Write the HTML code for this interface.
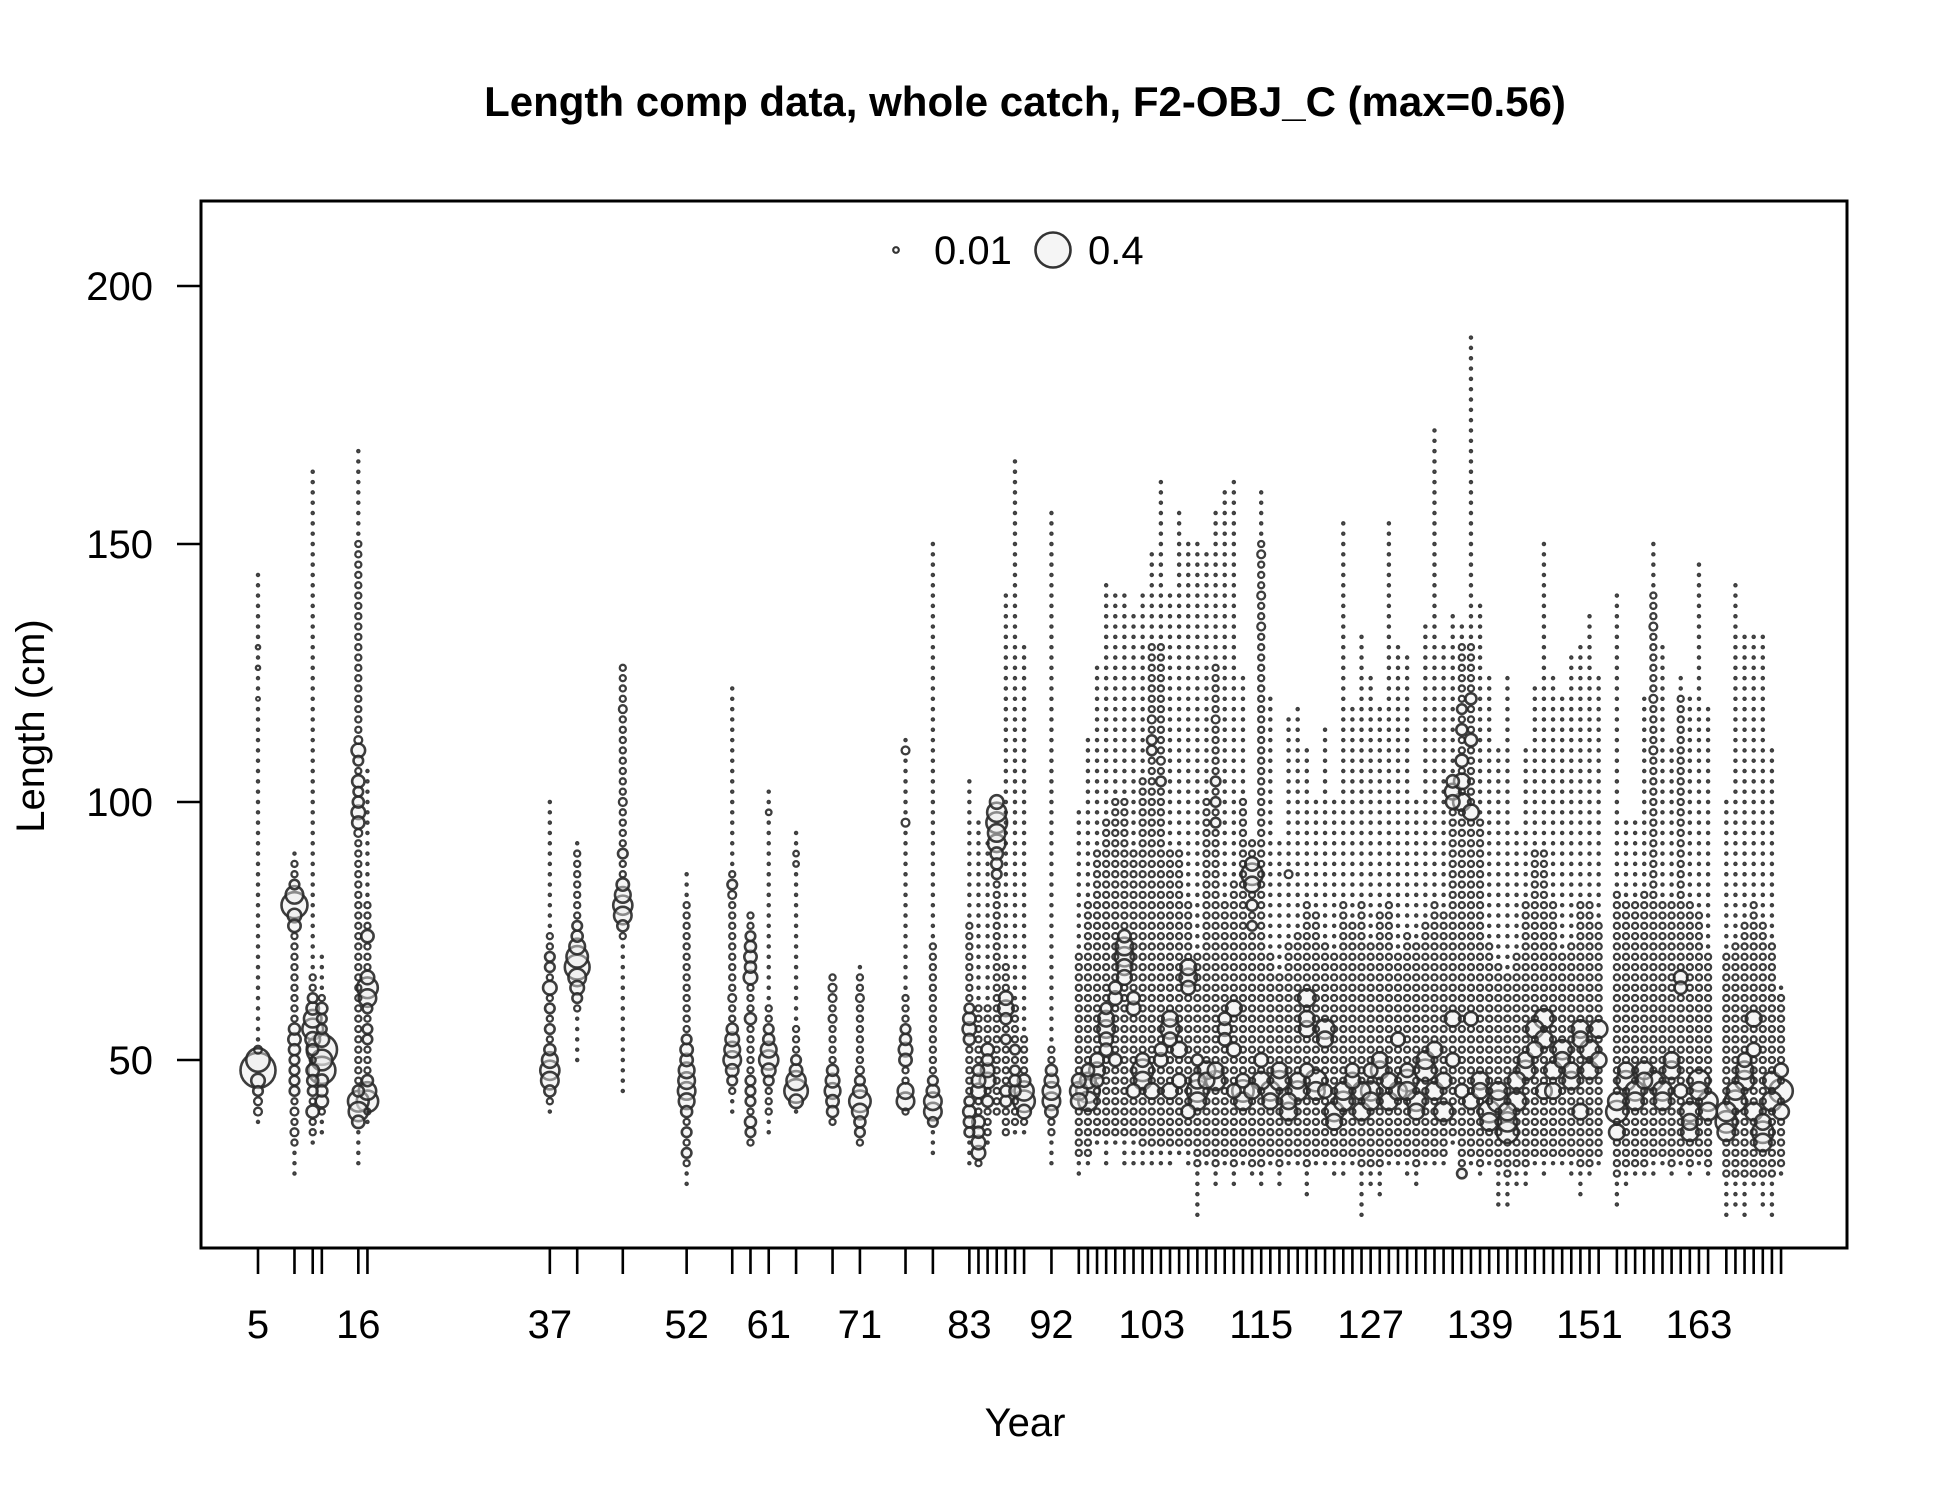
<!DOCTYPE html>
<html><head><meta charset="utf-8"><style>
html,body{margin:0;padding:0;background:#fff;}
svg text{font-family:"Liberation Sans",Arial,sans-serif;fill:#000;}
</style></head><body>
<svg id="chart" width="1950" height="1500" viewBox="0 0 1950 1500" xmlns="http://www.w3.org/2000/svg">
<rect x="0" y="0" width="1950" height="1500" fill="#fff"/>
<text x="1025" y="116" text-anchor="middle" font-size="42" font-weight="bold">Length comp data, whole catch, F2-OBJ_C (max=0.56)</text>
<text x="1025" y="1436" text-anchor="middle" font-size="40">Year</text>
<text transform="translate(44,726) rotate(-90)" text-anchor="middle" font-size="40">Length (cm)</text>
<g id="marks"></g>
<g id="axes"></g>
<rect x="201" y="201" width="1646" height="1047" fill="none" stroke="#000" stroke-width="3"/>
<g>
<circle cx="896" cy="250" r="2.8" fill="none" stroke="#333" stroke-width="2.2"/>
<text x="934" y="264" font-size="40">0.01</text>
<circle cx="1053" cy="250" r="17.5" fill="rgba(235,235,235,0.5)" stroke="#333" stroke-width="2.6"/>
<text x="1088" y="264" font-size="40">0.4</text>
</g>
</svg>
<script>
const years=[5,9,11,12,16,17,37,40,45,52,57,59,61,64,68,71,76,79,83,84,85,86,87,88,89,92,
95,96,97,98,99,100,101,102,103,104,105,106,107,108,109,110,111,112,113,114,115,116,117,118,119,120,121,122,123,124,125,126,127,128,129,130,131,132,133,134,135,136,137,138,139,140,141,142,143,144,145,146,147,148,149,150,151,152,154,155,156,157,158,159,160,161,162,163,164,166,167,168,169,170,171,172];
const lowLen=[38,28,34,36,30,38,40,50,44,26,40,34,36,40,38,34,40,32,30,30,34,40,36,36,36,30,
28,30,34,30,34,30,30,30,30,30,30,32,30,20,30,26,30,26,30,28,26,30,26,30,30,24,30,30,28,28,30,20,26,24,30,30,28,26,30,30,30,34,28,30,28,30,22,22,26,26,30,28,30,30,28,24,28,30,22,26,28,28,28,30,28,30,28,30,28,20,22,20,26,22,20,28];
const highLen=[144,90,164,70,168,106,100,92,126,86,122,78,102,94,66,68,112,150,104,96,92,100,140,166,130,156,
98,112,126,142,140,140,136,140,148,162,140,156,150,150,148,156,160,162,124,92,160,120,92,116,118,110,100,114,100,154,118,132,124,118,154,130,128,100,134,172,130,136,134,190,138,124,110,124,94,110,122,150,124,120,128,130,136,124,140,96,96,120,150,130,110,124,120,146,118,100,142,132,132,132,110,64];
const midLow=[40,34,36,40,38,40,42,60,74,30,44,34,40,42,38,34,40,38,36,30,36,40,36,38,38,36,
32,32,36,36,36,36,36,34,34,34,34,34,34,30,32,30,32,30,32,30,30,32,30,32,32,30,32,32,32,32,32,30,30,30,32,32,32,30,32,32,32,36,30,32,30,32,30,28,30,30,32,32,32,32,32,30,30,32,28,30,30,30,32,32,30,32,30,32,30,28,28,28,28,28,28,30];
const midHigh=[52,88,66,62,150,80,74,90,126,80,86,78,60,56,66,66,62,72,76,60,60,100,68,60,54,52,
70,80,90,96,100,100,90,104,130,130,90,90,80,70,100,126,80,84,100,92,150,70,66,72,74,80,78,72,70,80,76,80,72,78,80,70,74,72,76,80,78,100,130,130,96,72,68,66,70,80,90,90,80,70,72,80,80,76,82,80,80,82,140,80,80,120,80,78,70,70,72,76,80,76,72,62];
const peaks=[
"48:0.40 50:0.18 46:0.06 44:0.03 42:0.02 40:0.02 52:0.02 120:0.005 126:0.006 130:0.006",
"80:0.22 82:0.10 78:0.06 76:0.05 84:0.03 54:0.05 52:0.04 56:0.04 50:0.03 48:0.03 44:0.03 46:0.03 40:0.02 36:0.02",
"56:0.14 58:0.10 54:0.07 60:0.05 52:0.04 62:0.03 40:0.05 48:0.05 46:0.04 44:0.03",
"52:0.30 48:0.24 50:0.14 54:0.07 46:0.05 42:0.05 44:0.04 60:0.04 58:0.03 56:0.03",
"42:0.14 40:0.12 38:0.05 44:0.04 110:0.06 104:0.05 98:0.06 96:0.05 100:0.04 108:0.03 102:0.03 112:0.02 94:0.02",
"64:0.14 62:0.10 66:0.06 42:0.15 44:0.10 46:0.04 74:0.05 60:0.03 56:0.03 54:0.03",
"48:0.12 46:0.10 50:0.08 52:0.04 44:0.04 64:0.06 60:0.03 56:0.03 68:0.03 70:0.03",
"68:0.20 70:0.15 66:0.10 72:0.08 64:0.06 74:0.04 62:0.03 76:0.03",
"80:0.12 78:0.10 82:0.08 84:0.05 76:0.04 90:0.03 100:0.02 118:0.02",
"44:0.10 46:0.09 48:0.08 42:0.08 50:0.05 52:0.05 40:0.04 36:0.03 32:0.03 54:0.03",
"50:0.10 52:0.08 54:0.06 48:0.05 56:0.04 46:0.03 84:0.03 82:0.02 62:0.02",
"66:0.06 70:0.05 72:0.04 68:0.04 74:0.03 58:0.04 38:0.04 42:0.03 36:0.03 44:0.03 46:0.03",
"50:0.12 52:0.08 48:0.06 54:0.04 46:0.03 56:0.03 98:0.01",
"44:0.18 46:0.12 42:0.06 48:0.05 50:0.03 88:0.01 90:0.01",
"44:0.08 46:0.06 42:0.05 48:0.04 40:0.04 58:0.02 62:0.02 64:0.02",
"42:0.15 40:0.08 44:0.06 38:0.04 36:0.03 46:0.03 48:0.02 62:0.02",
"42:0.10 44:0.08 52:0.06 50:0.05 54:0.04 56:0.03 96:0.02 110:0.02",
"40:0.10 42:0.10 44:0.05 38:0.03 46:0.03",
"56:0.06 58:0.05 54:0.04 40:0.05 38:0.04 36:0.03 42:0.03 60:0.03",
"32:0.06 34:0.06 38:0.05 36:0.04 44:0.07 46:0.06 48:0.04",
"46:0.08 48:0.06 52:0.05 42:0.04 50:0.04",
"96:0.14 98:0.12 92:0.10 94:0.10 100:0.06 90:0.05 88:0.04 86:0.03",
"60:0.08 62:0.06 58:0.04 54:0.03 42:0.04 44:0.04",
"46:0.04 44:0.04 52:0.03 48:0.03",
"42:0.15 44:0.12 40:0.06 46:0.05",
"42:0.10 44:0.10 46:0.06 40:0.05 48:0.04",
"44:0.10 42:0.08 46:0.06","44:0.18 42:0.12 46:0.08 48:0.05","48:0.08 50:0.06 46:0.05",
"56:0.10 58:0.08 54:0.06 52:0.05 60:0.04","62:0.06 64:0.05 50:0.05","70:0.12 72:0.10 68:0.08 66:0.07 74:0.05",
"60:0.06 62:0.05 44:0.06","48:0.15 46:0.10 50:0.06","44:0.08 110:0.03 112:0.03 116:0.02",
"50:0.06 52:0.05 104:0.03 108:0.02","56:0.12 58:0.08 54:0.06 44:0.08","52:0.08 46:0.06",
"66:0.10 68:0.08 64:0.06 40:0.06","44:0.15 42:0.10 46:0.08 50:0.04","48:0.10 46:0.08",
"46:0.12 48:0.08 96:0.03 100:0.03 104:0.03 116:0.02","56:0.06 58:0.05 54:0.05","60:0.08 52:0.06 44:0.06",
"44:0.15 42:0.10 46:0.06","86:0.15 84:0.08 88:0.06 80:0.04 76:0.03 44:0.08","46:0.10 50:0.06 134:0.02 140:0.02 148:0.02",
"44:0.12 42:0.08","46:0.12 48:0.08","40:0.10 42:0.08 86:0.02","44:0.12 46:0.08","62:0.10 58:0.08 56:0.08 48:0.06",
"46:0.15 44:0.10","56:0.12 54:0.08 44:0.06","40:0.12 38:0.08","42:0.12 44:0.10","46:0.08 48:0.06",
"44:0.10 40:0.10","44:0.12 42:0.10 48:0.06","48:0.10 50:0.08","42:0.10 46:0.08","54:0.06 44:0.10",
"46:0.15 44:0.10 48:0.06","42:0.12 40:0.08","48:0.15 50:0.10","44:0.10 52:0.08","40:0.12 46:0.08",
"50:0.06 58:0.08 102:0.08 100:0.06 104:0.05","100:0.10 104:0.08 108:0.05 114:0.04 118:0.03 44:0.06 28:0.03",
"98:0.08 112:0.05 120:0.04 58:0.06 42:0.08","46:0.10 44:0.08","40:0.15 38:0.10","42:0.15 44:0.10",
"36:0.15 38:0.12 40:0.10","42:0.12 46:0.10","48:0.12 50:0.08","56:0.10 52:0.08","58:0.12 54:0.10 44:0.08",
"48:0.10 44:0.08","52:0.12 50:0.08","46:0.10 48:0.08","56:0.10 54:0.08 40:0.08","52:0.12 48:0.10","56:0.10 50:0.08",
"40:0.15 42:0.10 36:0.08","46:0.12 48:0.08","44:0.12 42:0.10","48:0.10 46:0.08","46:0.12 110:0.02 120:0.02 134:0.02",
"44:0.12 42:0.10","48:0.10 50:0.08","66:0.06 64:0.05 44:0.06","40:0.12 36:0.10 38:0.08","46:0.15 44:0.10",
"42:0.12 40:0.10","38:0.15 40:0.12 36:0.10","42:0.15 44:0.10","46:0.12 48:0.10 50:0.06","58:0.08 52:0.06 40:0.10",
"36:0.15 34:0.10 38:0.08","42:0.12 46:0.10","44:0.18 40:0.08 48:0.06"];
const xTickLabels=[5,16,37,52,61,71,83,92,103,115,127,139,151,163];
const yTickValues=[50,100,150,200];
const tinyProp=0.002, midProp=0.012;

const NS="http://www.w3.org/2000/svg";
function xScale(yr){return 258+(yr-5)*9.12;}
function yScale(v){return 286+(200-v)*5.16;}
function rScale(p){return 17.5*Math.sqrt(p/0.4);}

const marks=document.getElementById('marks');
const pts=[];
years.forEach((yr,i)=>{
  const props={};
  for(let L=lowLen[i];L<=highLen[i];L+=2){
    props[L]=(L>=midLow[i]&&L<=midHigh[i])?midProp:tinyProp;
  }
  peaks[i].split(' ').forEach(s=>{const [l,p]=s.split(':').map(Number);props[l]=Math.max(props[l]||0,p);});
  Object.keys(props).forEach(k=>pts.push({yr:yr,L:+k,p:props[k]}));
});
pts.sort((a,b)=>b.p-a.p);
pts.forEach(d=>{
  const c=document.createElementNS(NS,'circle');
  c.setAttribute('cx',xScale(d.yr));
  c.setAttribute('cy',yScale(d.L));
  c.setAttribute('r',rScale(d.p));
  c.setAttribute('fill',d.p>0.02?'rgba(235,235,235,0.45)':'none');
  c.setAttribute('stroke','rgba(40,40,40,0.9)');
  c.setAttribute('stroke-width',d.p>0.02?2.6:(d.p>0.005?2.3:2.0));
  
  
  marks.appendChild(c);
});

const axes=document.getElementById('axes');
years.forEach(yr=>{
  const t=document.createElementNS(NS,'line');
  t.setAttribute('x1',xScale(yr));t.setAttribute('x2',xScale(yr));
  t.setAttribute('y1',1248);t.setAttribute('y2',1274);
  t.setAttribute('stroke','#000');t.setAttribute('stroke-width',2.6);
  
  
  axes.appendChild(t);
});
xTickLabels.forEach(yr=>{
  const tx=document.createElementNS(NS,'text');
  tx.setAttribute('x',xScale(yr));tx.setAttribute('y',1338);
  tx.setAttribute('text-anchor','middle');tx.setAttribute('font-size','40');
  tx.textContent=yr;
  
  
  axes.appendChild(tx);
});
yTickValues.forEach(v=>{
  const t=document.createElementNS(NS,'line');
  t.setAttribute('x1',177);t.setAttribute('x2',201);
  t.setAttribute('y1',yScale(v));t.setAttribute('y2',yScale(v));
  t.setAttribute('stroke','#000');t.setAttribute('stroke-width',2.6);
  
  
  axes.appendChild(t);
  const tx=document.createElementNS(NS,'text');
  tx.setAttribute('x',153);tx.setAttribute('y',yScale(v)+14);
  tx.setAttribute('text-anchor','end');tx.setAttribute('font-size','40');
  tx.textContent=v;
  
  
  axes.appendChild(tx);
});
</script>
</body></html>
